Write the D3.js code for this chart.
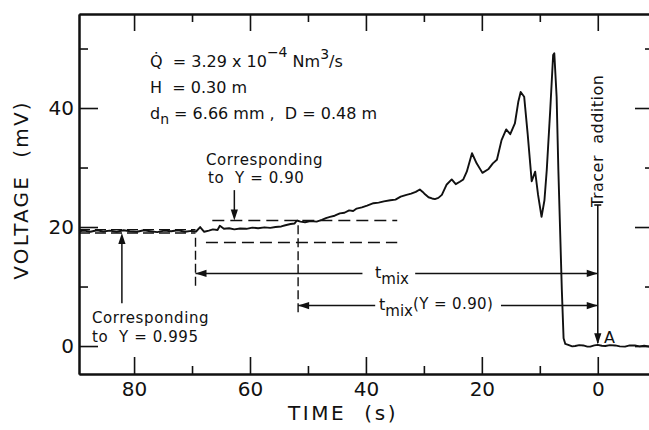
<!DOCTYPE html>
<html>
<head>
<meta charset="utf-8">
<script src="https://cdn.jsdelivr.net/npm/d3@7"></script>
<style>
  body { margin: 0; background: #fff; }
  svg text { font-family: "DejaVu Sans", sans-serif; fill: #111; white-space: pre; }
</style>
</head>
<body>
<svg id="chart" width="649" height="430"></svg>
<script>
// Recorded conductivity-probe voltage, time counted backwards from tracer addition
const timeS = [
  89.5, 88.6, 87.5, 86.4, 85.3, 84.2, 83.0, 81.8, 80.7, 79.5, 78.3, 77.2, 76.0, 74.8, 73.6, 72.4, 71.2, 70.1,
  69.3, 68.6, 67.9, 67.1, 66.4, 65.6, 65.2, 64.5, 63.6, 62.7, 61.7, 60.6, 59.6, 58.6, 57.5, 56.5, 55.6, 54.6,
  53.9, 53.0, 52.3, 51.9, 51.3, 50.5, 49.6, 48.5, 47.6, 46.9, 46.2, 45.4, 44.5, 43.7, 42.9, 42.2, 41.6, 40.7,
  39.8, 38.7, 37.8, 36.9, 35.8, 34.9, 34.0, 33.0, 32.2, 31.4, 30.7, 30.2, 29.8, 29.2, 28.6, 28.1, 27.5, 26.9,
  26.1, 25.2, 24.5, 23.8, 23.2, 22.6, 21.7, 20.9, 19.9, 18.9, 18.1, 17.4, 16.6, 15.8, 15.1, 14.3, 13.7, 13.3,
  12.7, 12.1, 11.4, 10.8, 10.3, 9.7, 9.2, 8.8, 8.2, 7.7, 7.5, 7.1, 6.8, 6.5, 6.2, 5.9, 5.6, 5.1, 4.4, 3.9,
  3.2, 2.5, 1.8, 1.3, 0.6, 0, -0.7, -1.3, -2.1, -3.0, -3.8, -4.7, -5.5, -6.4, -7.2, -8.0, -8.9, -9.7
];
const voltageMV = [
  19.3, 19.4, 19.2, 19.45, 19.25, 19.4, 19.2, 19.45, 19.3, 19.2, 19.45, 19.3, 19.15, 19.4, 19.3, 19.45, 19.2, 19.35,
  19.25, 20.0, 19.2, 19.4, 19.6, 19.5, 20.2, 19.7, 19.8, 19.6, 19.75, 19.7, 19.9, 19.8, 19.95, 19.85, 20.0, 20.1,
  20.3, 20.5, 20.6, 21.1, 20.9, 20.8, 21.0, 20.9, 21.2, 21.5, 21.7, 21.9, 22.3, 22.4, 22.8, 22.7, 23.1, 23.3,
  23.6, 24.0, 24.1, 24.3, 24.5, 24.6, 25.1, 25.4, 25.6, 25.9, 26.3, 25.9, 25.5, 25.0, 24.8, 24.7, 24.9, 25.4,
  27.1, 28.0, 27.2, 27.6, 28.0, 29.3, 32.4, 30.7, 29.1, 29.7, 30.7, 31.3, 34.6, 36.4, 35.6, 37.4, 41.1, 42.7,
  41.9, 35.7, 27.7, 29.3, 25.4, 21.7, 24.5, 29.6, 39.7, 48.9, 49.2, 41.9, 29.6, 19.5, 9.4, 1.3, 0.35, 0.2, -0.05, 0.0,
  0.15, 0.1, -0.1, -0.1, 0.1, 0.2, 0.05, 0.0, 0.15, 0.1, -0.05, -0.1, 0.1, 0.1, -0.05, 0.05, -0.1, 0.0
];

const xMajorTicks = [80, 60, 40, 20, 0];
const xMinorTicks = [70, 50, 30, 10];
const yMajorTicks = [0, 20, 40];
const yMinorTicks = [10, 30, 50];

// Mixing-band levels (mV) and the times at which the trace enters each band (s)
const band995 = [19.55, 19.0];
const band90 = [21.1, 17.4];
const tMixStart = 69.4;
const tMix90Start = 51.7;
const tracerTime = 0;

const svg = d3.select("#chart");
const x = d3.scaleLinear().domain([89.5, -9.7]).range([79, 654]);
const y = d3.scaleLinear().domain([-4.7, 55.8]).range([374, 14]);

const frame = svg.append("g").attr("class", "axes");

function styleAxis(g) {
  g.selectAll("path.domain").attr("stroke", "#111").attr("stroke-width", 2);
  g.selectAll(".tick line").attr("stroke", "#111").attr("stroke-width", 1.6);
  g.selectAll(".tick text").attr("font-size", 20).attr("fill", "#111")
    .attr("font-family", "DejaVu Sans, sans-serif");
}

// bottom
frame.append("g").attr("transform", `translate(0,${y.range()[0]})`)
  .call(d3.axisBottom(x).tickValues(xMajorTicks).tickSize(-17).tickSizeOuter(0).tickPadding(8).tickFormat(d3.format("d")))
  .call(styleAxis);
frame.append("g").attr("transform", `translate(0,${y.range()[0]})`)
  .call(d3.axisBottom(x).tickValues(xMinorTicks).tickSize(-8).tickSizeOuter(0).tickFormat(""))
  .call(styleAxis);
// top
frame.append("g").attr("transform", `translate(0,${y.range()[1]})`)
  .call(d3.axisTop(x).tickValues(xMajorTicks).tickSize(-17).tickSizeOuter(0).tickFormat(""))
  .call(styleAxis);
frame.append("g").attr("transform", `translate(0,${y.range()[1]})`)
  .call(d3.axisTop(x).tickValues(xMinorTicks).tickSize(-8).tickSizeOuter(0).tickFormat(""))
  .call(styleAxis);
// left
frame.append("g").attr("transform", `translate(${x.range()[0]},0)`)
  .call(d3.axisLeft(y).tickValues(yMajorTicks).tickSize(-19).tickSizeOuter(0).tickPadding(5).tickFormat(d3.format("d")))
  .call(styleAxis);
frame.append("g").attr("transform", `translate(${x.range()[0]},0)`)
  .call(d3.axisLeft(y).tickValues(yMinorTicks).tickSize(-9).tickSizeOuter(0).tickFormat(""))
  .call(styleAxis);
// right
frame.append("g").attr("transform", `translate(${x.range()[1]},0)`)
  .call(d3.axisRight(y).tickValues(yMajorTicks).tickSize(-19).tickSizeOuter(0).tickFormat(""))
  .call(styleAxis);
frame.append("g").attr("transform", `translate(${x.range()[1]},0)`)
  .call(d3.axisRight(y).tickValues(yMinorTicks).tickSize(-9).tickSizeOuter(0).tickFormat(""))
  .call(styleAxis);

// axis titles
svg.append("text").attr("x", 343).attr("y", 420).attr("text-anchor", "middle")
  .attr("font-size", 20).attr("letter-spacing", 2.6).text("TIME  (s)");
svg.append("text").attr("transform", "translate(28,190) rotate(-90)").attr("text-anchor", "middle")
  .attr("font-size", 20).attr("letter-spacing", 2.2).text("VOLTAGE  (mV)");

// trace
const trace = timeS.map((t, i) => ({ t, v: voltageMV[i] }));
svg.append("path").datum(trace)
  .attr("fill", "none").attr("stroke", "#111").attr("stroke-width", 1.9).attr("stroke-linejoin", "round")
  .attr("d", d3.line().x(d => x(d.t)).y(d => y(d.v)));

const ann = svg.append("g").attr("stroke", "#111").attr("fill", "none");

function hline(t0, t1, v, dash, w) {
  ann.append("line").attr("x1", x(t0)).attr("x2", x(t1)).attr("y1", y(v)).attr("y2", y(v))
    .attr("stroke-width", w || 1.5).attr("stroke-dasharray", dash || null);
}
function vline(t, v0, v1, dash, w) {
  ann.append("line").attr("x1", x(t)).attr("x2", x(t)).attr("y1", y(v0)).attr("y2", y(v1))
    .attr("stroke-width", w || 1.5).attr("stroke-dasharray", dash || null);
}
function arrowHead(px, py, dir) {
  const L = 11, W = 3.6;
  let pts;
  if (dir === "left") pts = [[px, py], [px + L, py - W], [px + L, py + W]];
  else if (dir === "right") pts = [[px, py], [px - L, py - W], [px - L, py + W]];
  else if (dir === "up") pts = [[px, py], [px - W, py + L], [px + W, py + L]];
  else pts = [[px, py], [px - W, py - L], [px + W, py - L]];
  svg.append("path").attr("d", "M" + pts.join("L") + "Z").attr("fill", "#111");
}

// Y = 0.995 band
hline(89.5, tMixStart, band995[0], "11,5", 1.3);
hline(89.5, tMixStart, band995[1], "11,5", 1.3);
// Y = 0.90 band
hline(66.5, 34.6, band90[0], "12,6", 1.5);
hline(67.6, 34.6, band90[1], "12,6", 1.5);

// band entry markers
vline(tMixStart, 18.2, 9.7, "9,4", 1.4);
vline(tMix90Start, 20.3, 5.2, "9,4", 1.4);

// t_mix arrow
const vMix = 12.2, vMix90 = 6.8;
hline(tMixStart, 40.6, vMix);
hline(31.5, tracerTime, vMix);
arrowHead(x(tMixStart), y(vMix), "left");
arrowHead(x(tracerTime), y(vMix), "right");
// t_mix(Y=0.90) arrow
hline(tMix90Start, 38.4, vMix90);
hline(16.7, tracerTime, vMix90);
arrowHead(x(tMix90Start), y(vMix90), "left");
arrowHead(x(tracerTime), y(vMix90), "right");

// tracer addition marker
vline(tracerTime, 23.7, 0.5, null, 1.6);
ann.append("line").attr("x1", x(tracerTime) - 3.5).attr("x2", x(tracerTime) + 3.5)
  .attr("y1", y(23.7)).attr("y2", y(23.7)).attr("stroke-width", 1.6);
arrowHead(x(tracerTime), y(0.3), "down");

// pointer arrows to the bands
vline(62.7, 26.2, 22.5, null, 1.5);
arrowHead(x(62.7), y(band90[0]), "down");
vline(82.1, 7.2, 17.5, null, 1.5);
arrowHead(x(82.1), y(band995[1]), "up");

// text annotations
const txt = svg.append("g").attr("font-size", 16);

const q = txt.append("text").attr("x", 150).attr("y", 67).attr("font-size", 16);
q.append("tspan").text("Q\u0307  = 3.29 x 10");
q.append("tspan").attr("dy", -10).attr("font-size", 14).text("\u22124");
q.append("tspan").attr("dy", 10).text(" Nm");
q.append("tspan").attr("dy", -8).attr("font-size", 14).text("3");
q.append("tspan").attr("dy", 8).text("/s");

txt.append("text").attr("x", 150).attr("y", 93).attr("font-size", 16).text("H  = 0.30 m");

const d = txt.append("text").attr("x", 150).attr("y", 119).attr("font-size", 16);
d.append("tspan").text("d");
d.append("tspan").attr("dy", 5).attr("font-size", 14).text("n");
d.append("tspan").attr("dy", -5).text(" = 6.66 mm ,  D = 0.48 m");

const lab = txt.append("g").attr("letter-spacing", 0.6);
lab.append("text").attr("x", 206).attr("y", 165).attr("font-size", 15).text("Corresponding");
lab.append("text").attr("x", 208).attr("y", 183).attr("font-size", 15).text("to  Y = 0.90");
lab.append("text").attr("x", 92).attr("y", 323).attr("font-size", 15).text("Corresponding");
lab.append("text").attr("x", 92).attr("y", 342).attr("font-size", 15).text("to  Y = 0.995");

const tm = txt.append("text").attr("x", 375).attr("y", 278).attr("font-size", 16);
tm.append("tspan").text("t");
tm.append("tspan").attr("dy", 6).attr("font-size", 15).text("mix");

const tm9 = txt.append("text").attr("x", 379).attr("y", 310).attr("font-size", 16);
tm9.append("tspan").text("t");
tm9.append("tspan").attr("dy", 6).attr("font-size", 15).text("mix");
tm9.append("tspan").attr("dy", -7).attr("font-size", 15).attr("letter-spacing", 0.4).text("(Y = 0.90)");

txt.append("text").attr("transform", `translate(${x(tracerTime) + 5},207) rotate(-90)`)
  .attr("font-size", 16).attr("letter-spacing", 0.5).text("Tracer  addition");
txt.append("text").attr("x", 604).attr("y", 343).attr("font-size", 16).text("A");
</script>
</body>
</html>
